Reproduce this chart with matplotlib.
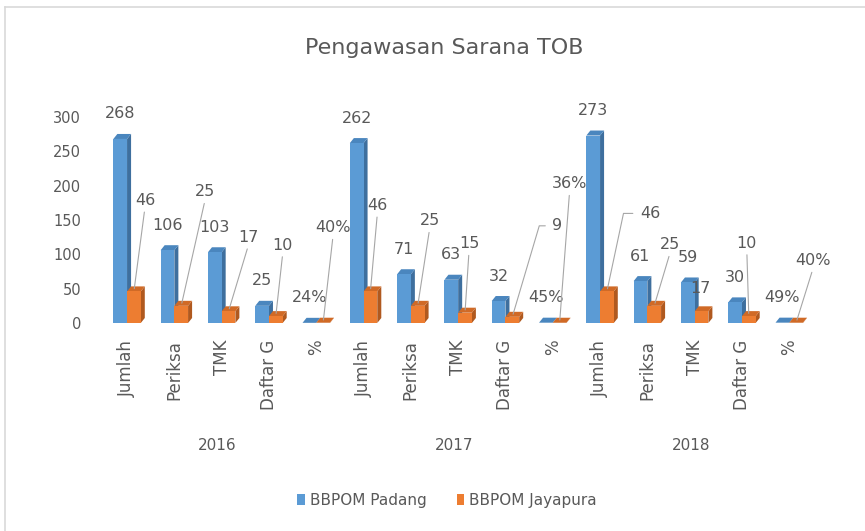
import matplotlib
matplotlib.use("Agg")
import matplotlib.pyplot as plt
from matplotlib.patches import Polygon
from matplotlib.lines import Line2D

# %% Datos
years = ["2016", "2017", "2018"]
categories = ["Jumlah", "Periksa", "TMK", "Daftar G", "%"]
padang = [268, 106, 103, 25, 0.24,
          262, 71, 63, 32, 0.45,
          273, 61, 59, 30, 0.49]
jayapura = [46, 25, 17, 10, 0.40,
            46, 25, 15, 9, 0.36,
            46, 25, 17, 10, 0.40]
series_names = ["BBPOM Padang", "BBPOM Jayapura"]

# label placement for the orange series (pixels from bar top): dx, dy, leader
jaya_label_pos = [(11, 91, "line"), (24, 114, "line"), (20, 74, "line"), (7, 71, "line"), (10, 95, "line"),
                  (7, 86, "line"), (12, 85, "line"), (4, 69, "line"), (45, 91, "kink"), (10, 139, "line"),
                  (43, 78, "kink"), (16, 61, "line"), (-1, 23, "none"), (-2, 73, "line"), (17, 62, "line")]
kink_angle = {8: 73.5, 10: 78}

BLUE = ("#5B9BD5", "#3E6F9E", "#4A86BE")
ORANGE = ("#ED7D31", "#B0591F", "#D06A26")
TXT = "#595959"
LEAD = "#A6A6A6"

W = 0.29      # bar width
DX = 0.085    # depth (x)
DY = 7.3      # depth (y)


def fmt(v, cat):
    if cat == "%":
        return "{}%".format(int(round(v * 100)))
    return str(v)


def bar3d(ax, xs, vals, colors, z):
    ax.bar(xs, vals, width=W, color=colors[0], zorder=z + 0.2, linewidth=0)
    for x, v in zip(xs, vals):
        x0 = x - W / 2
        side = [(x0 + W, 0), (x0 + W, v), (x0 + W + DX, v + DY), (x0 + W + DX, DY)]
        top = [(x0, v), (x0 + W, v), (x0 + W + DX, v + DY), (x0 + DX, v + DY)]
        ax.add_patch(Polygon(side, closed=True, fc=colors[1], ec="none", zorder=z))
        ax.add_patch(Polygon(top, closed=True, fc=colors[2], ec="none", zorder=z + 0.1))


fig = plt.figure(figsize=(8.65, 5.31), dpi=100)
plt.rcParams["font.family"] = ["DejaVu Sans"]

ax = fig.add_axes([103.4 / 865, 1 - 323 / 531, 709.5 / 865, 206 / 531])
n = len(padang)
idx = list(range(n))
xb = [i - W / 2 for i in idx]
xo = [i + W / 2 for i in idx]
cats = [categories[i % len(categories)] for i in idx]

bar3d(ax, xb, padang, BLUE, 2)
bar3d(ax, xo, jayapura, ORANGE, 3)

ax.set_xlim(-0.5, n - 0.5)
ax.set_ylim(0, 300)
ax.set_yticks(range(0, 301, 50))
ax.set_xticks(idx)
ax.set_xticklabels(cats, rotation=90, fontsize=12, color=TXT)
ax.tick_params(axis="x", length=0, pad=12)
ax.tick_params(axis="y", length=0, pad=16, labelsize=10.5, labelcolor=TXT)
for s in ax.spines.values():
    s.set_visible(False)

# data labels
for i in idx:
    ax.annotate(fmt(padang[i], cats[i]), xy=(xb[i], padang[i]), xytext=(0, 25),
                textcoords="offset pixels", ha="center", va="center",
                fontsize=11.5, color=TXT, zorder=6)
    dx, dy, kind = jaya_label_pos[i]
    kw = dict(xy=(xo[i], jayapura[i]), xytext=(dx, dy), textcoords="offset pixels",
              ha="center", va="center", fontsize=11.5, color=TXT, zorder=6)
    if kind == "line":
        kw["arrowprops"] = dict(arrowstyle="-", color=LEAD, lw=0.8, shrinkA=1, shrinkB=2,
                                relpos=(0.5, 0))
    elif kind == "kink":
        kw["arrowprops"] = dict(arrowstyle="-", color=LEAD, lw=0.8, shrinkA=3, shrinkB=2,
                                relpos=(0, 0.5),
                                connectionstyle="angle,angleA=0,angleB={},rad=0".format(kink_angle[i]))
    ax.annotate(fmt(jayapura[i], cats[i]), **kw)

# year labels
for g, yr in enumerate(years):
    ax.annotate(yr, xy=(g * len(categories) + 2, 0), xycoords=("data", "axes fraction"),
                xytext=(-4, -123), textcoords="offset pixels", ha="center", va="center",
                fontsize=11, color=TXT)

fig.text(444 / 865, 1 - 48 / 531, "Pengawasan Sarana TOB", ha="center", va="center",
         fontsize=16, color=TXT)

handles = [plt.Rectangle((0, 0), 1, 1, fc=BLUE[0]), plt.Rectangle((0, 0), 1, 1, fc=ORANGE[0])]
fig.legend(handles, series_names, loc="center", bbox_to_anchor=(447 / 865, 1 - 500 / 531),
           ncol=2, frameon=False, fontsize=11, handlelength=0.5, handleheight=0.7,
           handletextpad=0.3, columnspacing=2.0, labelcolor=TXT)

# chart border (top and left edges)
fig.add_artist(Line2D([5 / 865, 1], [1 - 7 / 531, 1 - 7 / 531], color="#D9D9D9", lw=1.2))
fig.add_artist(Line2D([5 / 865, 5 / 865], [0, 1 - 7 / 531], color="#D9D9D9", lw=1.2))

fig.savefig("out.png", dpi=100)
